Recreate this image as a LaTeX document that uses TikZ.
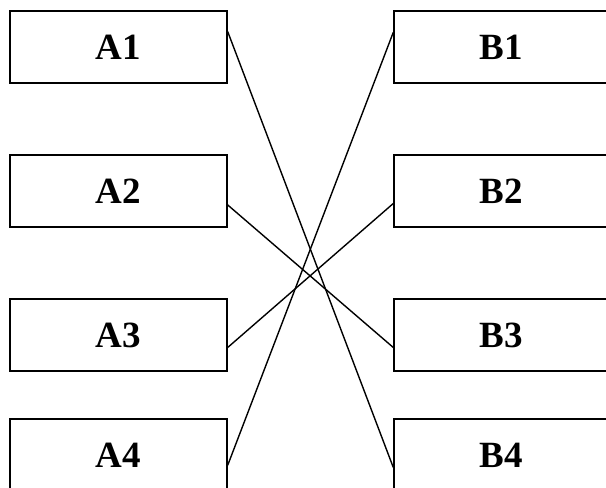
\documentclass[tikz,border=0pt]{standalone}
\usepackage{fontspec}
\setmainfont{Liberation Serif}
\usetikzlibrary{calc}
\begin{document}
\begin{tikzpicture}[x=1pt,y=-1pt,
  boxa/.style={draw,line width=1.4pt,rectangle,inner sep=0pt,minimum width=217pt,minimum height=72pt,font=\fontsize{37}{40}\selectfont\bfseries},
  boxb/.style={boxa,minimum width=214pt},
  link/.style={line width=1.4pt}]
\useasboundingbox (0,0) rectangle (606,488);
\clip (0,0) rectangle (606,488);
\node[boxa] (A1) at (118.5,47) {A1};
\node[boxa] (A2) at (118.5,191) {A2};
\node[boxa] (A3) at (118.5,335) {A3};
\node[boxa] (A4) at (118.5,455) {A4};
\node[boxb] (B1) at (501,47) {B1};
\node[boxb] (B2) at (501,191) {B2};
\node[boxb] (B3) at (501,335) {B3};
\node[boxb] (B4) at (501,455) {B4};
\draw[link] ($(A1.north east)!0.29!(A1.south east)$) -- ($(B4.north west)!0.67!(B4.south west)$);
\draw[link] ($(A2.north east)!0.69!(A2.south east)$) -- ($(B3.north west)!0.67!(B3.south west)$);
\draw[link] ($(A3.north east)!0.67!(A3.south east)$) -- ($(B2.north west)!0.67!(B2.south west)$);
\draw[link] ($(A4.north east)!0.64!(A4.south east)$) -- ($(B1.north west)!0.3!(B1.south west)$);
\end{tikzpicture}
\end{document}
